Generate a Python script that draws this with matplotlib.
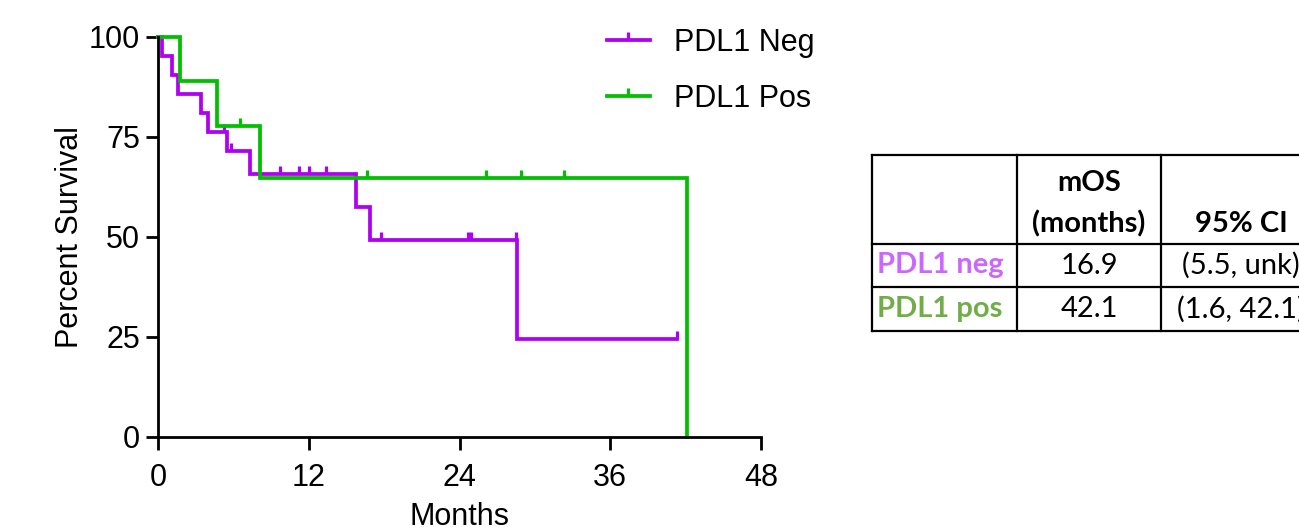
import matplotlib
matplotlib.use("Agg")
import matplotlib.pyplot as plt
from matplotlib.path import Path
from matplotlib.lines import Line2D

# Kaplan-Meier steps (months, percent survival)
neg_t = [0, 0.3, 1.15, 1.6, 3.4, 3.95, 5.5, 7.3, 15.8, 16.9, 28.6, 41.3]
neg_s = [100, 95.2, 90.5, 85.7, 81.0, 76.2, 71.4, 65.7, 57.5, 49.3, 24.6, 24.6]
neg_cens_t = [5.25, 5.8, 9.7, 11.2, 12.05, 13.4, 17.75, 24.7, 24.9, 28.5, 41.3]
neg_cens_s = [76.2, 71.4, 65.7, 65.7, 65.7, 65.7, 49.3, 49.3, 49.3, 49.3, 24.6]

pos_t = [0, 1.75, 4.67, 8.1, 42.1]
pos_s = [100, 88.9, 77.8, 64.8, 0]
pos_cens_t = [6.5, 16.6, 26.1, 28.9, 32.3]
pos_cens_s = [77.8, 64.8, 64.8, 64.8, 64.8]

series_labels = ["PDL1 Neg", "PDL1 Pos"]
x_ticks = [0, 12, 24, 36, 48]
y_ticks = [0, 25, 50, 75, 100]

# table
tbl_header1 = ["", "mOS", ""]
tbl_header2 = ["", "(months)", "95% CI"]
tbl_rows = ["PDL1 neg", "PDL1 pos"]
tbl_mos = ["16.9", "42.1"]
tbl_ci = ["(5.5, unk)", "(1.6, 42.1)"]

PURPLE = "#b000f0"
GREEN = "#00c000"
LBL_COLORS = ["#cc66ff", "#70ad47"]

plt.rcParams["font.family"] = ["Liberation Sans", "DejaVu Sans"]

W, H = 1299, 527
FS = 22
LW = 2.7
fig = plt.figure(figsize=(W / 100, H / 100), dpi=100)
ax = fig.add_axes([158 / W, 1 - 437 / H, (761 - 158) / W, (437 - 37) / H])

up_tick = Path([(0, 0), (0, 1)])

for t, s, ct, cs, c in [(neg_t, neg_s, neg_cens_t, neg_cens_s, PURPLE),
                        (pos_t, pos_s, pos_cens_t, pos_cens_s, GREEN)]:
    ax.step(t, s, where="post", color=c, lw=LW, clip_on=False,
            solid_joinstyle="miter")
    ax.plot(ct, cs, ls="none", marker=up_tick, ms=11, mew=2.3, color=c,
            clip_on=False)

ax.set_xlim(0, 48)
ax.set_ylim(0, 100)
ax.set_xticks(x_ticks)
ax.set_yticks(y_ticks)
for sp in ["top", "right"]:
    ax.spines[sp].set_visible(False)
for sp in ["left", "bottom"]:
    ax.spines[sp].set_linewidth(2.0)
ax.tick_params(axis="both", direction="out", length=9, width=2.0,
               labelsize=FS)
ax.tick_params(axis="y", pad=4)
ax.tick_params(axis="x", pad=10)
ax.set_xlabel("Months", fontsize=FS, labelpad=6)
ax.set_ylabel("Percent Survival", fontsize=FS, labelpad=3)

handles = [Line2D([], [], color=PURPLE, lw=LW, marker=up_tick, ms=11, mew=2.3),
           Line2D([], [], color=GREEN, lw=LW, marker=up_tick, ms=11, mew=2.3)]
fig.legend(handles, series_labels, loc="upper left",
           bbox_to_anchor=(607 / W, 1 - 28 / H), frameon=False, fontsize=FS,
           handlelength=1.4, handletextpad=0.8, labelspacing=0.85,
           borderpad=0, borderaxespad=0)

# table drawn in pixel coords on an overlay axes
tax = fig.add_axes([0, 0, 1, 1])
tax.set_xlim(0, W)
tax.set_ylim(H, 0)
tax.axis("off")
cols = [872, 1017, 1161, 1321]
rows = [155, 244, 287, 331]
lw = 1.6
for y in rows:
    tax.plot([cols[0], cols[-1]], [y, y], color="black", lw=lw,
             solid_capstyle="projecting")
for x in cols:
    tax.plot([x, x], [rows[0], rows[-1]], color="black", lw=lw,
             solid_capstyle="projecting")

tfont = dict(family=["Lato", "DejaVu Sans"], fontsize=21)
centers = [(cols[i] + cols[i + 1]) / 2 for i in range(3)]
for i in range(3):
    if tbl_header1[i]:
        tax.text(centers[i], 183, tbl_header1[i], ha="center", va="center",
                 fontweight="bold", **tfont)
    if tbl_header2[i]:
        tax.text(centers[i], 224, tbl_header2[i], ha="center", va="center",
                 fontweight="bold", **tfont)
row_mid = [(rows[1] + rows[2]) / 2, (rows[2] + rows[3]) / 2]
for j in range(2):
    tax.text(cols[0] + 5, row_mid[j], tbl_rows[j], ha="left", va="center",
             fontweight="bold", color=LBL_COLORS[j], **tfont)
    tax.text(centers[1], row_mid[j], tbl_mos[j], ha="center", va="center",
             **tfont)
    tax.text(centers[2], row_mid[j], tbl_ci[j], ha="center", va="center",
             **tfont)

fig.savefig("out.png", dpi=100)
